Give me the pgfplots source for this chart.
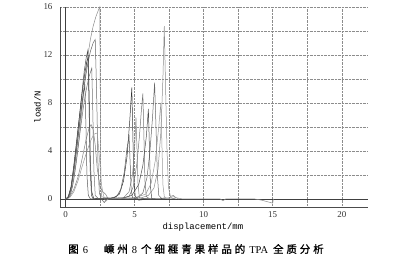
\documentclass[border=0pt]{standalone}
\usepackage{pgfplots}
\pgfplotsset{compat=1.18}
\usepackage{fontspec}
\setmainfont{Liberation Serif}
\newfontfamily\monof{Liberation Mono}
\newfontfamily\cjk[LetterSpace=28,FakeBold=1.2]{Noto Sans CJK SC}
\begin{document}
\begin{tikzpicture}
\begin{axis}[
  name=ax,
  scale only axis,
  width=308bp, height=200bp,
  xmin=-0.4, xmax=21.9, ymin=-0.67, ymax=16,
  axis x line*=bottom, axis y line*=left,
  axis line style={-, black!70, line width=0.6pt},
  xtick={0,5,10,15,20}, minor xtick={2.5,7.5,12.5,17.5},
  ytick={0,4,8,12,16}, minor ytick={2,6,10,14},
  grid=both,
  major grid style={densely dotted, black!45, line width=0.5pt},
  minor grid style={densely dotted, black!45, line width=0.5pt},
  major tick length=0pt, minor tick length=0pt,
  /pgf/number format/assume math mode=true,
  tick label style={font=\fontsize{9}{10}\selectfont, text=black!80},
  xticklabel style={yshift=-1bp},
  yticklabel style={xshift=-4bp},
  xlabel={\monof displacement/mm},
  ylabel={\monof load/N},
  xlabel style={font=\fontsize{9}{10}\selectfont, at={(axis description cs:0.464,0)}, anchor=north, yshift=-12bp},
  ylabel style={font=\fontsize{9}{10}\selectfont, yshift=-4bp},
  every axis plot/.style={line width=0.5pt},
  clip=false,
]
\draw[black!75, line width=0.6pt] (axis cs:0,-0.67) -- (axis cs:0,16);
\draw[black!75, line width=0.6pt] (axis cs:-0.4,0) -- (axis cs:21.9,0);
% curve 1
\addplot[black!45] coordinates {(0,0)(0.2,0.1)(0.4,0.6)(0.6,1.6)(0.8,3.2)(1.0,5.2)(1.2,7.5)(1.4,9.8)(1.6,11.8)(1.8,13.3)(2.0,14.4)(2.2,15.2)(2.4,15.8)(2.48,16)(2.52,8)(2.56,1)(2.62,0.2)(2.8,0.1)(3.5,0.05)(4.5,0.05)(5.5,0.1)(6.0,0.3)(6.4,0.9)(6.7,2.5)(6.9,5.5)(7.05,10)(7.15,14.4)(7.25,9)(7.35,4)(7.45,1)(7.6,0.2)(7.8,0.3)(8.0,0.1)(8.5,0)(10,0)(11.2,0)(11.4,-0.15)(11.6,0)(13.7,0)(14.2,-0.1)(15,-0.35)(15.05,0)};
% curve 2
\addplot[black!60] coordinates {(0,0)(0.2,0.1)(0.4,0.8)(0.6,2.2)(0.8,4)(1.0,6)(1.2,8)(1.4,9.8)(1.6,11.2)(1.8,12.3)(2.0,13)(2.15,13.3)(2.25,9)(2.35,3)(2.45,0.5)(2.6,0)(2.8,-0.3)(3.0,0)(3.5,0.1)(4.5,0)(5.2,0.1)(5.6,0.5)(5.9,1.8)(6.1,3.8)(6.3,6.8)(6.45,9.7)(6.55,6)(6.65,2)(6.75,0.3)(7.0,0)(7.5,0.1)(8.0,0)};
% curve 3
\addplot[black!80] coordinates {(0,0)(0.2,0.2)(0.4,1)(0.6,2.8)(0.8,4.8)(1.0,6.8)(1.2,8.8)(1.4,10.5)(1.55,11.5)(1.65,11.8)(1.72,8)(1.8,3)(1.9,0.6)(2.05,0)(2.3,0.05)(3,0)(3.5,0.1)(3.9,0.4)(4.2,1.5)(4.45,3.5)(4.65,6.5)(4.8,9.3)(4.88,5)(4.95,1.5)(5.05,0.2)(5.3,-0.1)(6,0)(6.5,0)};
% curve 4
\addplot[black!55] coordinates {(0,0)(0.3,0.2)(0.5,1)(0.7,2.5)(0.9,4.2)(1.1,6)(1.3,7.7)(1.5,9.1)(1.7,10.2)(1.9,10.9)(1.98,7)(2.05,2.5)(2.15,0.3)(2.4,0)(3,0.1)(4,0)(4.6,0.2)(4.9,1)(5.15,2.8)(5.35,5.2)(5.5,7.5)(5.6,8.8)(5.68,5)(5.75,1.5)(5.85,0.2)(6.1,0)(7,0)};
% curve 5
\addplot[black!50] coordinates {(0,0)(0.3,0.2)(0.6,0.8)(0.9,1.8)(1.1,2.8)(1.3,3.9)(1.5,5)(1.7,5.9)(1.85,6.2)(2.0,5.8)(2.15,4.5)(2.3,2.5)(2.5,1.0)(2.7,0.6)(2.9,0.4)(3.1,0)(3.6,0)(4.2,0.1)(4.6,0.6)(4.85,2)(5.0,4.2)(5.1,6.8)(5.18,4)(5.25,1.2)(5.35,0.1)(5.8,0)(6.3,0)};
% curve 6
\addplot[black!70] coordinates {(0,0)(0.2,0.15)(0.4,1)(0.6,2.6)(0.8,4.6)(1.0,6.8)(1.2,9)(1.35,10.6)(1.5,11.8)(1.62,12.4)(1.7,8)(1.78,2.5)(1.88,0.3)(2.0,0)(2.5,0)(3.2,0.05)(4.2,0.1)(4.8,0.3)(5.3,1.2)(5.6,2.8)(5.85,5.2)(6.0,7.5)(6.08,4)(6.15,1)(6.25,0)(6.8,0)(7.2,0.1)};
% curve 7
\addplot[black!40] coordinates {(0,0)(0.3,0.1)(0.6,0.6)(0.9,1.5)(1.2,2.7)(1.5,3.8)(1.8,4.8)(2.05,5.4)(2.3,5.5)(2.45,3.5)(2.6,1.2)(2.75,0.3)(2.9,-0.2)(3.1,0)(3.8,0.05)(5.0,0.1)(5.8,0.4)(6.2,1.3)(6.5,3.2)(6.75,6)(6.9,8)(6.98,4.5)(7.05,1.2)(7.15,0.2)(7.4,0)(7.8,0.2)(8.2,0)};
% curve 8
\addplot[black!65] coordinates {(0,0)(0.2,0.1)(0.4,0.9)(0.6,2.4)(0.8,4.2)(1.0,6.1)(1.15,7.6)(1.3,8.9)(1.4,9.4)(1.48,6)(1.55,2)(1.65,0.3)(1.8,0)(2.5,0)(3.2,0.05)(3.7,0.2)(4.0,0.8)(4.25,2.2)(4.45,4.2)(4.6,5.2)(4.68,3)(4.75,0.8)(4.85,0.1)(5.2,0)(6,0.05)};
\end{axis}
\node[font=\fontsize{10.5}{12}\selectfont] at ([xshift=136bp,yshift=-42bp]ax.south west) {\cjk 图\hspace{4bp}\rmfamily 6\hspace{16bp}\cjk 嵊州\hspace{4bp}\rmfamily 8\hspace{4bp}\cjk 个细榧青果样品的\hspace{4bp}\rmfamily TPA\hspace{5bp}\cjk 全质分析};
\pgfresetboundingbox
\path ([xshift=-60bp,yshift=-55bp]ax.south west) rectangle ++(399bp,262bp);
\end{tikzpicture}
\end{document}
